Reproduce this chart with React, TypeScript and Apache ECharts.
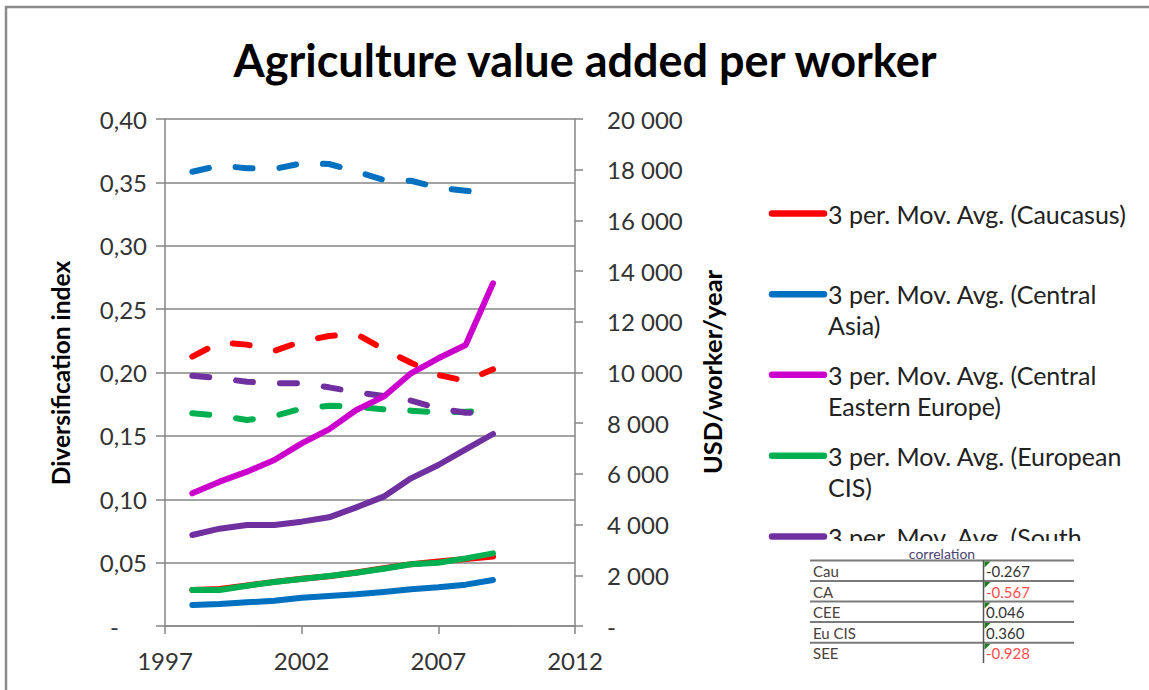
import React, { useEffect, useRef } from "react";
import * as echarts from "echarts";

const years = [1998, 1999, 2000, 2001, 2002, 2003, 2004, 2005, 2006, 2007, 2008, 2009];

// Diversification index (left axis, dashed)
const divCaucasus = [0.2125, 0.2238, 0.222, 0.217, 0.2246, 0.2288, 0.2304, 0.2183, 0.2077, 0.198, 0.1935, 0.2025];
const divCentralAsia = [0.3584, 0.3632, 0.3612, 0.3606, 0.365, 0.3645, 0.3585, 0.352, 0.3513, 0.3458, 0.3434, 0.341];
const divCEE: number[] = [];
const divEuCIS = [0.1678, 0.1659, 0.1625, 0.1657, 0.1715, 0.1738, 0.173, 0.171, 0.1699, 0.1686, 0.1691, 0.1699];
const divSEE = [0.1975, 0.1954, 0.1927, 0.1915, 0.1915, 0.1883, 0.1844, 0.1815, 0.1778, 0.1717, 0.1683, 0.1678];

// USD/worker/year (right axis, solid 3 per. moving averages)
const usdCaucasus = [1420, 1460, 1600, 1740, 1860, 1960, 2110, 2280, 2440, 2540, 2640, 2740];
const usdCentralAsia = [828, 868, 933, 999, 1118, 1183, 1249, 1341, 1446, 1525, 1631, 1815];
const usdCEE = [5234, 5693, 6088, 6548, 7206, 7758, 8521, 9047, 9968, 10560, 11085, 13519];
const usdEuCIS = [1420, 1420, 1590, 1736, 1854, 1972, 2104, 2261, 2433, 2498, 2669, 2866];
const usdSEE = [3590, 3839, 3984, 3984, 4116, 4287, 4681, 5102, 5825, 6351, 6969, 7574];

// the last entry is cut off by the correlation table in the original
const legendLabels = [
  "3 per. Mov. Avg. (Caucasus)",
  "3 per. Mov. Avg. (Central\nAsia)",
  "3 per. Mov. Avg. (Central\nEastern Europe)",
  "3 per. Mov. Avg. (European\nCIS)",
  "3 per. Mov. Avg. (South",
];

const corrLabels = ["Cau", "CA", "CEE", "Eu CIS", "SEE"];
const corrValues = ["-0.267", "-0.567", "0.046", "0.360", "-0.928"];
const corrNegativeRed = [false, true, false, false, true];

const COLORS = ["#ff0000", "#0070c0", "#cc00cc", "#00b050", "#7030a0"];
const FONT = "Lato";

function pairs(vals: number[]) {
  return vals.map((v, i) => [years[i], v]);
}

export default function App() {
  const ref = useRef<HTMLDivElement>(null);

  useEffect(() => {
    if (!ref.current) return;
    const chart = echarts.init(ref.current, null, { renderer: "svg" });

    const axisGray = "#868686";
    const dash = [17, 27];

    const dashedSets = [divCaucasus, divCentralAsia, divCEE, divEuCIS, divSEE];
    const solidSets = [usdCaucasus, usdCentralAsia, usdCEE, usdEuCIS, usdSEE];
    const names = ["Caucasus", "Central Asia", "Central Eastern Europe", "European CIS", "South Eastern Europe"];

    const series: any[] = [];
    dashedSets.forEach((d, i) => {
      if (!d.length) return;
      series.push({
        name: names[i] + " (diversification)",
        type: "line",
        yAxisIndex: 0,
        data: pairs(d),
        symbol: "none",
        lineStyle: { color: COLORS[i], width: 6, type: dash, cap: "round", join: "round" },
        z: 3,
      });
    });
    solidSets.forEach((d, i) => {
      series.push({
        name: names[i],
        type: "line",
        yAxisIndex: 1,
        data: pairs(d),
        symbol: "none",
        lineStyle: { color: COLORS[i], width: 6, type: "solid", cap: "round", join: "round" },
        z: 4,
      });
    });

    const graphics: any[] = [];
    // outer border (top + left visible)
    graphics.push({
      type: "rect",
      shape: { x: 6, y: 7, width: 1300, height: 900 },
      style: { fill: "none", stroke: "#8a8a8a", lineWidth: 2.5 },
      z: 0,
    });
    // axis titles
    graphics.push({
      type: "text",
      x: 60,
      y: 373,
      rotation: Math.PI / 2,
      style: {
        text: "Diversification index",
        font: `bold 24.5px ${FONT}`,
        fill: "#000",
        align: "center",
        verticalAlign: "middle",
      },
      z: 1,
    });
    graphics.push({
      type: "text",
      x: 712,
      y: 372,
      rotation: Math.PI / 2,
      style: {
        text: "USD/worker/year",
        font: `bold 25.5px ${FONT}`,
        fill: "#000",
        align: "center",
        verticalAlign: "middle",
      },
      z: 1,
    });

    // legend
    const legendY = [213.5, 294.3, 374.8, 455.7, 536.5];
    legendLabels.forEach((lab, i) => {
      graphics.push({
        type: "line",
        shape: { x1: 772, y1: legendY[i], x2: 824, y2: legendY[i] },
        style: { stroke: COLORS[i], lineWidth: 6.5, lineCap: "round" },
        z: 1,
      });
      const lh = i === legendLabels.length - 1 ? 16 : 31;
      graphics.push({
        type: "text",
        x: 828,
        y: legendY[i] - lh / 2,
        style: {
          text: lab,
          font: `25px ${FONT}`,
          fill: "#222",
          align: "left",
          verticalAlign: "top",
          lineHeight: lh,
        },
        z: 1,
      });
    });

    // white cover (table sits over legend)
    graphics.push({
      type: "rect",
      shape: { x: 760, y: 541, width: 330, height: 160 },
      style: { fill: "#fff" },
      z: 5,
    });

    // correlation table
    graphics.push({
      type: "text",
      x: 942,
      y: 553,
      style: {
        text: "correlation",
        font: `14px ${FONT}`,
        fill: "#4b4470",
        align: "center",
        verticalAlign: "middle",
        lineHeight: 12,
      },
      z: 10,
    });
    const rowLines = [560.5, 581, 601.5, 622, 642.8];
    rowLines.forEach((y) => {
      graphics.push({
        type: "line",
        shape: { x1: 810, y1: y, x2: 1074, y2: y },
        style: { stroke: "#7a7a7a", lineWidth: 2 },
        z: 10,
      });
    });
    graphics.push({
      type: "line",
      shape: { x1: 983.5, y1: 560, x2: 983.5, y2: 663 },
      style: { stroke: "#555", lineWidth: 1.5 },
      z: 10,
    });
    corrLabels.forEach((lab, i) => {
      const cy = rowLines[i] + 10.5;
      graphics.push({
        type: "text",
        x: 813,
        y: cy,
        style: { text: lab, font: `15px ${FONT}`, fill: "#4a4038", align: "left", verticalAlign: "middle" },
        z: 10,
      });
      graphics.push({
        type: "text",
        x: 986,
        y: cy,
        style: {
          text: corrValues[i],
          font: `15px ${FONT}`,
          fill: corrNegativeRed[i] ? "#ff4d4d" : "#333",
          align: "left",
          verticalAlign: "middle",
        },
        z: 10,
      });
      graphics.push({
        type: "polygon",
        shape: { points: [[984.5, rowLines[i] + 1], [990.5, rowLines[i] + 1], [984.5, rowLines[i] + 7]] },
        style: { fill: "#1f7a1f" },
        z: 11,
      });
    });

    const option: any = {
      animation: false,
      backgroundColor: "#fff",
      title: {
        text: "Agriculture value added per worker",
        left: 580,
        top: 32,
        textAlign: "center",
        textStyle: { fontFamily: FONT, fontWeight: "bold", fontSize: 45, color: "#000" },
      },
      grid: { left: 165, right: 574, top: 119, bottom: 64, containLabel: false },
      xAxis: {
        type: "value",
        min: 1997,
        max: 2012,
        interval: 5,
        axisLine: { show: true, lineStyle: { color: axisGray, width: 1.5 } },
        axisTick: { show: true, length: 8, lineStyle: { color: axisGray, width: 1.5 } },
        splitLine: { show: false },
        axisLabel: {
          fontFamily: FONT,
          fontSize: 24,
          color: "#333",
          margin: 22,
          formatter: (v: number) => String(v),
        },
      },
      yAxis: [
        {
          type: "value",
          position: "left",
          min: 0,
          max: 0.4,
          interval: 0.05,
          axisLine: { show: true, lineStyle: { color: axisGray, width: 1.5 } },
          axisTick: { show: true, length: 9, lineStyle: { color: axisGray, width: 1.5 } },
          splitLine: { show: true, lineStyle: { color: axisGray, width: 1.5 } },
          axisLabel: {
            fontFamily: FONT,
            fontSize: 24,
            color: "#333",
            margin: 18,
            formatter: (v: number) => (Math.abs(v) < 1e-9 ? "{z|-}" : v.toFixed(2).replace(".", ",")),
            rich: { z: { fontFamily: FONT, fontSize: 24, color: "#333", padding: [0, 28, 0, 0] } },
          },
        },
        {
          type: "value",
          position: "right",
          min: 0,
          max: 20000,
          interval: 2000,
          axisLine: { show: true, lineStyle: { color: axisGray, width: 1.5 } },
          axisTick: { show: true, length: 8, lineStyle: { color: axisGray, width: 1.5 } },
          splitLine: { show: false },
          axisLabel: {
            fontFamily: FONT,
            fontSize: 24,
            color: "#333",
            margin: 32,
            formatter: (v: number) =>
              v === 0 ? "-" : String(v).replace(/\B(?=(\d{3})+(?!\d))/g, " "),
          },
        },
      ],
      series,
      graphic: graphics,
    };

    chart.setOption(option);
    return () => chart.dispose();
  }, []);

  return (
    <div
      ref={ref}
      style={{ position: "fixed", left: 0, top: 0, width: 1149, height: 690, background: "#fff" }}
    />
  );
}
